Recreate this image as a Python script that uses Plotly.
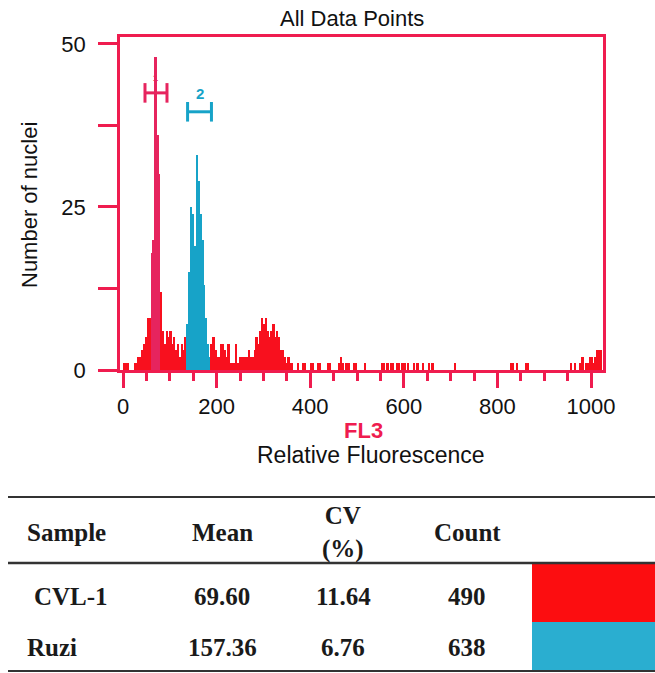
import numpy as np
import plotly.graph_objects as go

# ---------------- data ----------------
bin_width = 4
bin_start = list(range(0, 1024, bin_width))  # FL3 channels (256 bins)

counts = (
    [1, 1, 1, 0, 0, 0, 1, 1, 2, 2, 3, 4, 5, 8, 8, 18]          # 0-60
    + [20, 48, 36, 30, 12, 6, 4, 6, 5, 6, 4, 5, 3, 4, 2, 4]    # 64-124
    + [3, 5, 7, 15, 25, 24, 19, 33, 29, 24, 20, 13, 8, 4, 2, 4]  # 128-188
    + [5, 3, 2, 2, 4, 4, 3, 2, 4, 1, 1, 1, 4, 1, 2, 2]         # 192-252
    + [2, 2, 2, 3, 2, 2, 3, 5, 4, 6, 8, 7, 8, 6, 5, 6]         # 256-316
    + [7, 5, 6, 5, 3, 3, 2, 1, 2, 1, 1, 0, 0, 1, 0, 0]         # 320-380
    + [1, 1, 0, 0, 1, 1, 0, 0, 1, 1, 0, 0, 0, 1, 1, 0]         # 384-444
    + [0, 0, 0, 1, 2, 1, 0, 1, 1, 0, 0, 1, 1, 0, 0, 0]         # 448-508
    + [0, 1, 0, 0, 0, 0, 0, 0, 0, 0, 1, 1, 0, 1, 0, 1]         # 512-572
    + [1, 0, 1, 1, 0, 1, 1, 0, 1, 0, 0, 1, 0, 1, 0, 0]         # 576-636
    + [1, 0, 0, 1, 0, 1, 0, 0, 0, 0, 0, 0, 0, 0, 0, 0]         # 640-700
    + [0, 1, 0, 0, 0, 0, 0, 0, 0, 0, 0, 0, 0, 0, 0, 0]         # 704-764
    + [0, 0, 0, 0, 0, 0, 0, 0, 0, 0, 0, 0, 0, 0, 0, 1]         # 768-828
    + [1, 0, 1, 0, 0, 0, 0, 1, 1, 0, 0, 0, 0, 0, 0, 0]         # 832-892
    + [0, 0, 0, 0, 0, 0, 0, 0, 0, 0, 0, 0, 0, 0, 0, 1]         # 896-956
    + [0, 1, 0, 0, 1, 2, 0, 1, 1, 2, 2, 1, 2, 3, 3, 3]         # 960-1020
)

gate_names = ["1", "2"]
gate_lo = [47, 138]
gate_hi = [94, 189]
gate_level = [42.5, 39.6]

y_tick_vals = [0, 12.5, 25, 37.5, 50]
y_tick_text = ["0", "", "25", "", "50"]
x_tick_vals = [0, 200, 400, 600, 800, 1000]

table_header = ["Sample", "Mean", "CV<br>(%)", "Count"]
samples = ["CVL-1", "Ruzi"]
means = ["69.60", "157.36"]
cvs = ["11.64", "6.76"]
sample_counts = ["490", "638"]

# ---------------- style ----------------
BOX = "#ef1c4f"
RED = "#f8101e"
PINK = "#e6245e"
BLUE = "#17a3c8"
SWATCH = ["#fc0d10", "#2aaed0"]
SANS = "Liberation Sans, Arial, sans-serif"
SERIF = "Liberation Serif, Times New Roman, serif"

L, T = 120, 37
W, H = 655, 673
PW, PH = 483, 333
R, B = W - L - PW, H - T - PH


def px(xp):
    return (xp - L) / PW


def py(yp):
    return (T + PH - yp) / PH


centers = [s + bin_width / 2 for s in bin_start]
colors = []
for c in centers:
    if gate_lo[1] <= c <= gate_hi[1]:
        colors.append(BLUE)
    elif 60 <= c <= 80:
        colors.append(PINK)
    else:
        colors.append(RED)

fig = go.Figure()
fig.add_trace(go.Bar(x=centers, y=counts, width=bin_width,
                     marker=dict(color=colors, line=dict(width=0)),
                     showlegend=False, hoverinfo="x+y"))

# gate markers (H-shaped)
gate_colors = [PINK, BLUE]
for name, lo, hi, lev, col in zip(gate_names, gate_lo, gate_hi, gate_level, gate_colors):
    fig.add_trace(go.Scatter(
        x=[lo, lo, None, lo, hi, None, hi, hi],
        y=[lev - 1.5, lev + 1.5, None, lev, lev, None, lev - 1.5, lev + 1.5],
        mode="lines", line=dict(color=col, width=3), showlegend=False,
        hoverinfo="skip"))
    fig.add_annotation(x=(lo + hi) / 2, y=lev + 1.2, text=f"<b>{name}</b>",
                       showarrow=False, yanchor="bottom",
                       font=dict(family=SANS, size=15 if name == "2" else 9, color=col))

fig.update_layout(
    width=W, height=H, margin=dict(l=L, r=R, t=T, b=B, pad=0),
    paper_bgcolor="white", plot_bgcolor="white", bargap=0,
    font=dict(family=SANS, size=22, color="#111"),
)
fig.update_xaxes(range=[-6.4, 1025.6], showgrid=False, zeroline=False,
                 showline=True, linecolor=BOX, linewidth=2.5, mirror=True,
                 ticks="outside", tickvals=x_tick_vals, ticklen=15, tickwidth=2.5,
                 tickcolor=BOX, tickfont=dict(family=SANS, size=22, color="#111"),
                 ticklabelstandoff=0,
                 minor=dict(ticks="outside", dtick=50, tick0=0, ticklen=8,
                            tickwidth=2.5, tickcolor=BOX))
fig.update_yaxes(range=[0, 51.07], showgrid=False, zeroline=False,
                 showline=True, linecolor=BOX, linewidth=2.5, mirror=True,
                 ticks="outside", tickvals=y_tick_vals, ticktext=y_tick_text,
                 ticklen=19, tickwidth=2.5, tickcolor=BOX,
                 tickfont=dict(family=SANS, size=22, color="#111"),
                 ticklabelstandoff=8)

ann = []
ann.append(dict(x=px(352), y=py(18), text="All Data Points",
                font=dict(family=SANS, size=22, color="#111")))
ann.append(dict(x=px(30), y=py(205), text="Number of nuclei", textangle=-90,
                font=dict(family=SANS, size=22, color="#111")))
ann.append(dict(x=px(363), y=py(430), text="<b>FL3</b>",
                font=dict(family=SANS, size=22, color=BOX)))
ann.append(dict(x=px(371), y=py(455), text="Relative Fluorescence",
                font=dict(family=SANS, size=23, color="#111")))

# table
tf = dict(family=SERIF, size=25, color="#1a1a1a")
col_x = [25, 222, 343, 467]
head_y = 532
row_y = [596, 647]
for i, h in enumerate(table_header):
    ann.append(dict(x=px(col_x[i]), y=py(head_y), text=f"<b>{h}</b>", font=tf,
                    xanchor="left" if i == 0 else "center"))
for r in range(len(samples)):
    ann.append(dict(x=px(col_x[0] + (7 if r == 0 else 0)), y=py(row_y[r]),
                    text=f"<b>{samples[r]}</b>", font=tf, xanchor="left"))
    ann.append(dict(x=px(col_x[1]), y=py(row_y[r]), text=f"<b>{means[r]}</b>", font=tf))
    ann.append(dict(x=px(col_x[2]), y=py(row_y[r]), text=f"<b>{cvs[r]}</b>", font=tf))
    ann.append(dict(x=px(col_x[3]), y=py(row_y[r]), text=f"<b>{sample_counts[r]}</b>", font=tf))

for a in ann:
    a.setdefault("xanchor", "center")
    a.update(xref="paper", yref="paper", showarrow=False, yanchor="middle")
    fig.add_annotation(**a)

shapes = []
for yl, wdt in [(497, 2), (563, 2.5), (671, 2)]:
    shapes.append(dict(type="line", xref="paper", yref="paper",
                       x0=px(8), x1=px(655), y0=py(yl), y1=py(yl),
                       line=dict(color="#333", width=wdt)))
sw_rows = [(564, 622), (622, 670)]
for (y0, y1), c in zip(sw_rows, SWATCH):
    shapes.append(dict(type="rect", xref="paper", yref="paper",
                       x0=px(532), x1=px(655), y0=py(y1), y1=py(y0),
                       fillcolor=c, line=dict(width=0), layer="below"))
fig.update_layout(shapes=shapes)

fig.write_html("out.html",
               config={"displayModeBar": False},
               post_script="document.body.style.margin='0px';"
                           "document.body.style.overflow='hidden';")
